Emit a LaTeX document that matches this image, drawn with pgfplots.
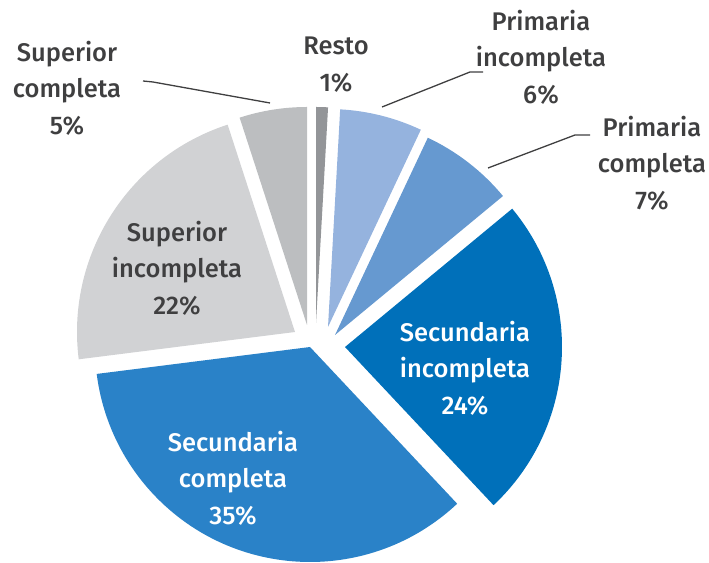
\documentclass[border=0pt]{standalone}
\usepackage{pgfplots}
\pgfplotsset{compat=1.18}
\usepackage{fontspec}
\setmainfont{Fira Sans}[BoldFont={Fira Sans Medium}]
\definecolor{cResto}{HTML}{939598}
\definecolor{cPrimInc}{HTML}{95B3DE}
\definecolor{cPrimCom}{HTML}{6699D0}
\definecolor{cSecInc}{HTML}{0070BA}
\definecolor{cSecCom}{HTML}{2A82C8}
\definecolor{cSupInc}{HTML}{D1D2D4}
\definecolor{cSupCom}{HTML}{BCBEC0}
\definecolor{txt}{HTML}{3F3F40}
\begin{document}
\begin{tikzpicture}
\begin{axis}[
  at={(0,0)}, anchor=south west,
  width=709bp, height=563bp, scale only axis,
  xmin=0, xmax=709, ymin=0, ymax=563,
  hide axis, clip=false,
]
% Slices: apex (x,y), radius ~217, angles from the shares (1,6,7,24,35,22,5 %), clockwise from 90 deg
\fill[cResto]   (axis cs:316,240) -- +(90:216)   arc[start angle=90,   end angle=86.8,   radius=216bp] -- cycle;
\fill[cPrimInc] (axis cs:328,236) -- +(86.8:218) arc[start angle=86.8, end angle=64.8,   radius=218bp] -- cycle;
\fill[cPrimCom] (axis cs:335,228) -- +(64.8:218) arc[start angle=64.8, end angle=39.6,   radius=218bp] -- cycle;
\fill[cSecInc]  (axis cs:345,216) -- +(39.6:217) arc[start angle=39.6, end angle=-46.8,  radius=217bp] -- cycle;
\fill[cSecCom]  (axis cs:310,216) -- +(-46.8:215) arc[start angle=-46.8, end angle=-172.8, radius=215bp] -- cycle;
\fill[cSupInc]  (axis cs:295,231) -- +(-172.8:218) arc[start angle=-172.8, end angle=-252, radius=218bp] -- cycle;
\fill[cSupCom]  (axis cs:307,238) -- +(108:218)  arc[start angle=108,  end angle=90,     radius=218bp] -- cycle;
% leader lines
\draw[txt, line width=1.3bp] (axis cs:143,482) -- (axis cs:153,481) -- (axis cs:270,460);
\draw[txt, line width=1.3bp] (axis cs:382,456) -- (axis cs:470,491) -- (axis cs:483,491);
\draw[txt, line width=1.3bp] (axis cs:488,395) -- (axis cs:575,428) -- (axis cs:590,428);
% labels
\tikzset{lab/.style={align=center, font=\fontsize{25.5bp}{36.5bp}\selectfont\bfseries, inner sep=0pt}}
\node[lab, text=white] at (axis cs:465,195) {Secundaria\\incompleta\\24\%};
\node[lab, text=white] at (axis cs:233,85) {Secundaria\\completa\\35\%};
\node[lab, text=txt] at (axis cs:177,295) {Superior\\incompleta\\22\%};
\node[lab, text=txt] at (axis cs:67,475) {Superior\\completa\\5\%};
\node[lab, text=txt] at (axis cs:652,400) {Primaria\\completa\\7\%};
\node[lab, text=txt] at (axis cs:541,506) {Primaria\\incompleta\\6\%};
\node[lab, text=txt] at (axis cs:336,498.5) {Resto\\1\%};
\end{axis}
\pgfresetboundingbox
\useasboundingbox (0,0) rectangle (709bp,563bp);
\end{tikzpicture}
\end{document}
